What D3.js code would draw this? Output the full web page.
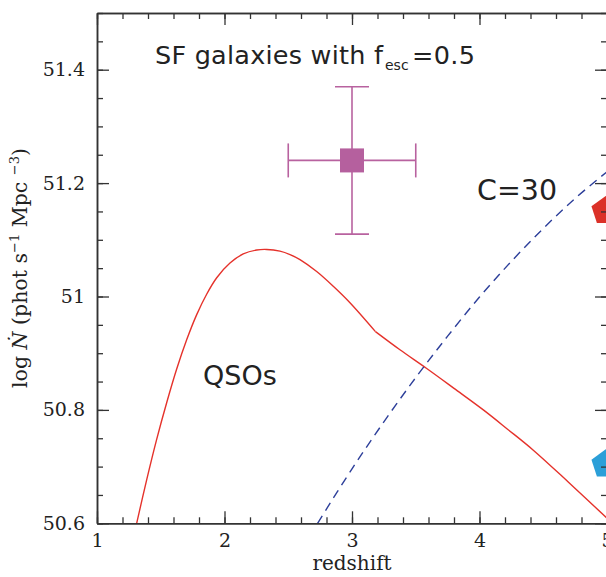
<!DOCTYPE html>
<html><head><meta charset="utf-8">
<script src="https://cdn.jsdelivr.net/npm/d3@7"></script>
<style>body{margin:0;background:#fff}svg{display:block}</style>
</head><body>
<script>
// ---- data ----
// QSO curve: rising branch up to the kink, and declining branch after it
const qsoZ1 = [1.311,1.390,1.468,1.547,1.625,1.704,1.782,1.860,1.939,2.043,2.147,2.253,2.331,2.435,2.514,2.592,2.723,2.853,2.984,3.184];
const qsoY1 = [50.600,50.677,50.748,50.813,50.872,50.924,50.968,51.004,51.033,51.059,51.075,51.082,51.083,51.080,51.074,51.065,51.044,51.018,50.989,50.938];
const qsoZ2 = [3.184,3.376,3.586,3.8,4.03,4.22,4.422,4.7,5.0];
const qsoY2 = [50.938,50.906,50.873,50.838,50.800,50.766,50.729,50.672,50.609];
// C=30 curve
const c30Z = [2.73,3.0,3.25,3.5,3.75,4.0,4.25,4.5,4.75,5.0];
const c30Y = [50.600,50.696,50.779,50.857,50.930,50.999,51.062,51.120,51.173,51.220];
const sfPoint = {z:3.0, y:51.24, zlo:2.5, zhi:3.5, ylo:51.11, yhi:51.37};
const pentZ = [4.99, 4.99];
const pentY = [51.151, 50.704];
const pentColors = ["#db3128", "#2b9fd8"];
const xTicks = [1,2,3,4,5];
const xTickLabels = ["1","2","3","4","5"];
const yTicks = [50.6,50.8,51,51.2,51.4];
const yTickLabels = ["50.6","50.8","51","51.2","51.4"];

const W = 606, H = 577;
const svg = d3.select("body").append("svg").attr("width", W).attr("height", H);
const x = d3.scaleLinear().domain([1,5]).range([97,607]);
const y = d3.scaleLinear().domain([50.6,51.5]).range([523.3,13]);
const axisColor = "#333";

svg.append("defs").append("clipPath").attr("id","clip")
  .append("rect").attr("x",97).attr("y",13).attr("width",510).attr("height",510.3);

// curves
const line = d3.line().x(d=>x(d[0])).y(d=>y(d[1])).curve(d3.curveCatmullRom.alpha(0.5));
const g = svg.append("g").attr("clip-path","url(#clip)");
[[qsoZ1,qsoY1],[qsoZ2,qsoY2]].forEach(([zs,ys])=>{
  g.append("path").datum(zs.map((z,i)=>[z,ys[i]])).attr("d",line)
    .attr("fill","none").attr("stroke","#e5322b").attr("stroke-width",1.4).attr("stroke-linejoin","round");
});
g.append("path").datum(c30Z.map((z,i)=>[z,c30Y[i]])).attr("d",line)
  .attr("fill","none").attr("stroke","#2d3f9a").attr("stroke-width",1.4).attr("stroke-dasharray","9,6");

// pentagons
pentZ.forEach((z,i)=>{
  const r = 15, cx = x(z), cy = y(pentY[i]);
  const pts = d3.range(5).map(k=>{const a = -Math.PI/2 + k*2*Math.PI/5; return [cx + r*Math.cos(a), cy + r*Math.sin(a)];});
  g.append("polygon").attr("points", pts.map(p=>p.join(",")).join(" ")).attr("fill", pentColors[i]);
});

// SF point with error bars
const mag = "#b8629f";
const eb = svg.append("g").attr("stroke",mag).attr("stroke-width",1.6).attr("fill","none");
eb.append("line").attr("x1",x(sfPoint.zlo)).attr("x2",x(sfPoint.zhi)).attr("y1",y(sfPoint.y)).attr("y2",y(sfPoint.y));
eb.append("line").attr("x1",x(sfPoint.z)).attr("x2",x(sfPoint.z)).attr("y1",y(sfPoint.ylo)).attr("y2",y(sfPoint.yhi));
[sfPoint.zlo, sfPoint.zhi].forEach(z=>eb.append("line").attr("x1",x(z)).attr("x2",x(z)).attr("y1",y(sfPoint.y)-17).attr("y2",y(sfPoint.y)+17));
[sfPoint.ylo, sfPoint.yhi].forEach(v=>eb.append("line").attr("x1",x(sfPoint.z)-17).attr("x2",x(sfPoint.z)+17).attr("y1",y(v)).attr("y2",y(v)));
svg.append("rect").attr("x",x(sfPoint.z)-12).attr("y",y(sfPoint.y)-12).attr("width",24).attr("height",24).attr("fill","#b5609e");

// axes
function styleAxis(sel){
  sel.selectAll("path.domain").attr("stroke",axisColor).attr("stroke-width",1.5);
  sel.selectAll(".tick line").attr("stroke",axisColor).attr("stroke-width",1.3);
  sel.selectAll("text").attr("fill","#222").attr("font-family","'DejaVu Serif', serif").attr("font-size",19);
}
const xMinor = d3.range(1,5.001,0.2).map(v=>+v.toFixed(2));
const yMinor = d3.range(50.6,51.5001,0.05).map(v=>+v.toFixed(2));
// bottom
svg.append("g").attr("transform","translate(0,523.3)").call(d3.axisBottom(x).tickValues(xMinor).tickSize(-6).tickSizeOuter(0).tickFormat("")).call(styleAxis);
svg.append("g").attr("transform","translate(0,523.3)").call(d3.axisBottom(x).tickValues(xTicks).tickSize(-12).tickSizeOuter(0).tickPadding(10).tickFormat((d,i)=>xTickLabels[i])).call(styleAxis);
// top
svg.append("g").attr("transform","translate(0,13)").call(d3.axisTop(x).tickValues(xMinor).tickSize(-6).tickSizeOuter(0).tickFormat("")).call(styleAxis);
svg.append("g").attr("transform","translate(0,13)").call(d3.axisTop(x).tickValues(xTicks).tickSize(-12).tickSizeOuter(0).tickFormat("")).call(styleAxis);
// left
svg.append("g").attr("transform","translate(97,0)").call(d3.axisLeft(y).tickValues(yMinor).tickSize(-6).tickSizeOuter(0).tickFormat("")).call(styleAxis);
svg.append("g").attr("transform","translate(97,0)").call(d3.axisLeft(y).tickValues(yTicks).tickSize(-12).tickSizeOuter(0).tickPadding(12).tickFormat((d,i)=>yTickLabels[i])).call(styleAxis);
// right
svg.append("g").attr("transform","translate(607,0)").call(d3.axisRight(y).tickValues(yMinor).tickSize(-6).tickSizeOuter(0).tickFormat("")).call(styleAxis);
svg.append("g").attr("transform","translate(607,0)").call(d3.axisRight(y).tickValues(yTicks).tickSize(-12).tickSizeOuter(0).tickFormat("")).call(styleAxis);

// axis titles
svg.append("text").attr("x",352).attr("y",570).attr("text-anchor","middle")
  .attr("font-family","'DejaVu Serif', serif").attr("font-size",20).attr("fill","#222").text("redshift");
const yl = svg.append("text").attr("transform","translate(27,268) rotate(-90)").attr("text-anchor","middle")
  .attr("font-family","'DejaVu Serif', serif").attr("font-size",20.5).attr("fill","#222");
yl.append("tspan").text("log ");
yl.append("tspan").attr("font-style","italic").text("\u1E44");
yl.append("tspan").text(" (phot s");
yl.append("tspan").attr("font-size",13).attr("dy",-8).text("\u22121");
yl.append("tspan").attr("dy",8).text(" Mpc ");
yl.append("tspan").attr("font-size",13).attr("dy",-8).text("\u22123");
yl.append("tspan").attr("dy",8).text(")");

// annotations
const sans = "'DejaVu Sans', sans-serif";
const t1 = svg.append("text").attr("x",155).attr("y",63.5).attr("font-family",sans).attr("font-size",25.5).attr("fill","#222");
t1.append("tspan").attr("textLength",228).attr("lengthAdjust","spacing").text("SF galaxies with f");
t1.append("tspan").attr("x",385).attr("font-size",14).attr("dy",6).text("esc");
t1.append("tspan").attr("x",412).attr("dy",-6).attr("textLength",63).attr("lengthAdjust","spacing").text("=0.5");
svg.append("text").attr("x",203).attr("y",385).attr("font-family",sans).attr("font-size",27).attr("fill","#222").text("QSOs");
svg.append("text").attr("x",477).attr("y",200).attr("font-family",sans).attr("font-size",28.5).attr("fill","#222").text("C=30");
</script>
</body></html>
